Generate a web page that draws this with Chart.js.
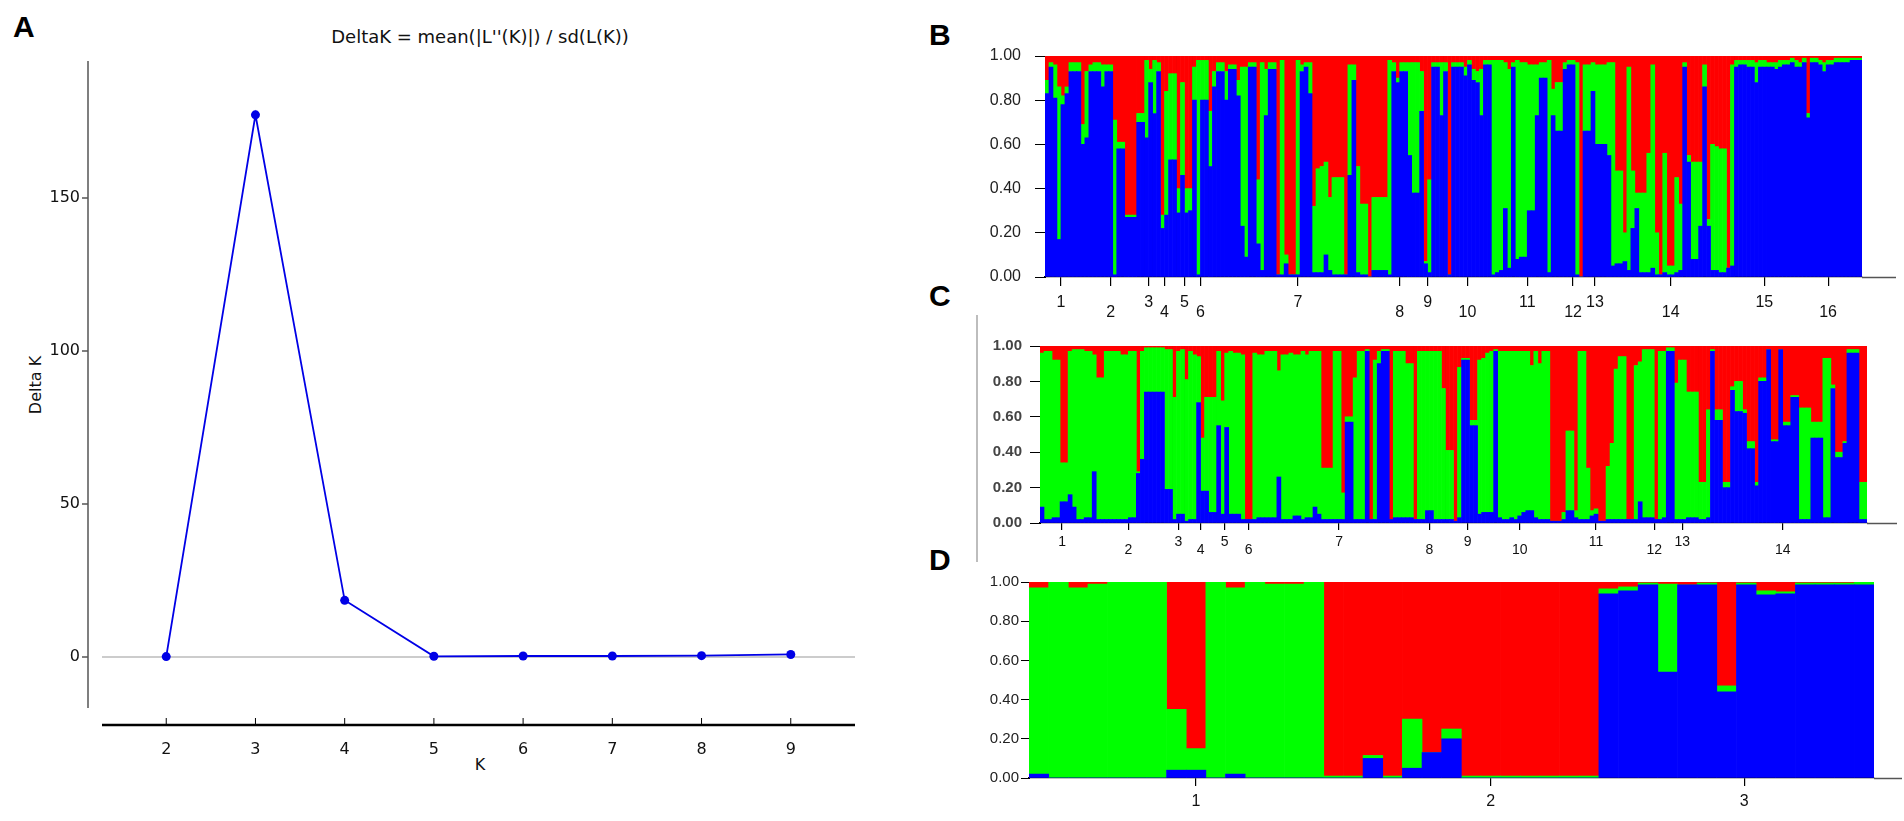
<!DOCTYPE html>
<html>
<head>
<meta charset="utf-8">
<script src="https://cdn.jsdelivr.net/npm/chart.js@4.4.1/dist/chart.umd.min.js"></script>
<style>
  html, body { margin: 0; padding: 0; background: #fff; }
  body { width: 1904px; height: 821px; position: relative; overflow: hidden; font-family: 'Liberation Sans', Arial, sans-serif; }
  canvas { position: absolute; }
  .panel { position: absolute; font: bold 30px 'Liberation Sans', Arial, sans-serif; line-height: 1; }
  .txt { position: absolute; white-space: nowrap; line-height: 1; transform: translate(-50%, -50%); font-family: 'DejaVu Sans', sans-serif; color: #111; }
  .vline { position: absolute; width: 2px; background: #bdbdbd; }
</style>
</head>
<body>
<div class="panel" style="left:13px;top:12px">A</div>
<div class="panel" style="left:929px;top:20px">B</div>
<div class="panel" style="left:929px;top:281px">C</div>
<div class="panel" style="left:929px;top:545px">D</div>
<div class="txt" style="left:480px;top:37px;font-size:18px">DeltaK = mean(|L''(K)|) / sd(L(K))</div>
<div class="txt" style="left:36px;top:385px;font-size:16px;transform:translate(-50%,-50%) rotate(-90deg)">Delta K</div>
<div class="txt" style="left:480px;top:765px;font-size:16px">K</div>
<div class="vline" style="left:976px;top:315px;height:247px"></div>

<canvas id="chartA" width="900" height="821" style="left:0;top:0"></canvas>
<canvas id="chartB" width="944" height="305" style="left:960px;top:20px"></canvas>
<canvas id="chartC" width="944" height="240" style="left:960px;top:320px"></canvas>
<canvas id="chartD" width="944" height="261" style="left:960px;top:560px"></canvas>

<script>
// Panel A - Evanno delta K
const kValues = [2, 3, 4, 5, 6, 7, 8, 9];
const deltaK = [0.1, 177.2, 18.5, 0.2, 0.3, 0.3, 0.4, 0.8];
const deltaTicks = [0, 50, 100, 150];

// STRUCTURE plots: tick labels shared by B, C, D
const structTicks = [0, 0.2, 0.4, 0.6, 0.8, 1];

// Panel B - 16 populations
const bGroupLabels = ['1', '2', '3', '4', '5', '6', '7', '8', '9', '10', '11', '12', '13', '14', '15', '16'];
const bGroupSizes = [8, 17, 2, 6, 4, 4, 45, 6, 8, 12, 18, 5, 6, 32, 15, 17];
const bBlue = [
  .83, .95, .81, .17, .78, .83, .93, .93,
  .93, .60, .63, .93, .93, .93, .86, .93, .93, .01, .58, .58, .27, .27, .27, .70, .70,
  .63, .88,
  .74, .93, .22, .28, .53, .53,
  .29, .46, .29, .30,
  .80, .01, .80, .80,
  .50, .86, .93, .93, .80, .94, .94, .82, .23, .09, .95, .95, .15, .03, .73, .94, .94, .01, .01, .06,
  .01, .01, .01, .93, .95, .83, .02, .02, .02, .10, .03, .01, .01, .01, .01, .46, .89, .02, .01, .01,
  0, .03, .03, .03, .03,
  .01, .93, .88, .93, .93, .55,
  .38, .38, .75, .06, .02, .95, .95, .73,
  .93, .01, .95, .95, .95, .91, .96, .89, .88, .73, .96, .96,
  .01, .02, .03, .31, .04, .95, .08, .09, .09, .30, .30, .73, .90, .90, .02, .73, .66, .66,
  .94, .96, .96, .01, 0,
  .66, .66, .84, .60, .60, .60,
  .55, .05, .06, .06, .07, .03, .22, .31, .02, .02, .02, .04, .01, .01, .02, .01,
  .01, .02, .03, .95, .52, .08, .08, .23, .86, .23, .03, .03, .02, .02, .04, .05,
  .95, .96, .96, .95, .95, .88, .95, .95, .95, .95, .94, .95, .96, .96, .97,
  .95, .95, .97, .72, .97, .97, .96, .93, .96, .96, .97, .97, .97, .97, .98, .98, .98
];
const bGreen = [
  .06, .02, .15, .69, .04, .03, .04, .04,
  .04, .09, .30, .03, .04, .04, .10, .03, .03, .70, .03, .03, .01, .01, .01, .04, .04,
  .35, .06,
  .24, .04, .06, .56, .39, .39,
  .11, .42, .11, .10,
  .15, .97, .18, .18,
  .25, .07, .04, .04, .13, .02, .02, .07, .72, .86, .02, .02, .29, .94, .21, .03, .03, 0, .97, .04,
  0, 0, .97, .03, .02, .14, .30, .47, .48, .42, .33, .44, .44, .44, 0, .50, .07, .48, .32, .32,
  0, .33, .33, .33, .33,
  .97, .04, .02, .04, .04, .42,
  .59, .59, .18, .01, .42, .02, .02, .24,
  .04, 0, .02, .02, .02, .04, .02, .05, .05, .21, .02, .02,
  .97, .96, .95, .66, .90, .02, .90, .88, .88, .66, .66, .23, .07, .07, .96, .12, .22, .22,
  .03, .02, .02, .96, 0,
  .30, .30, .13, .36, .36, .36,
  .42, .92, .42, .42, .13, .92, .26, .07, .36, .36, .54, .92, .19, 0, .54, .04,
  .04, .43, .30, .02, .03, .44, .44, .29, .10, .03, .57, .56, .56, .56, 0, .91,
  .03, .02, .02, .03, .03, .09, .03, .03, .02, .02, .03, .03, .02, .02, .02,
  .03, .02, .02, .02, .02, .02, .02, .04, .02, .02, .02, .02, .02, .02, .01, .01, .01
];

// Panel C - 14 populations
const cGroupLabels = ['1', '2', '3', '4', '5', '6', '7', '8', '9', '10', '11', '12', '13', '14'];
const cGroupSizes = [11, 22, 3, 8, 4, 8, 37, 8, 11, 15, 23, 6, 8, 42];
const cBlue = [
  .09, .02, .02, .03, .03, .12, .12, .16, .09, .02, .02,
  .03, .03, .29, .02, .02, .02, .02, .02, .02, .02, .02, .03, .03, .28, .36, .74, .74, .74, .74, .74, .19, .19,
  .02, .05, .05,
  .01, .02, .02, .68, .18, .18, .06, .06,
  .55, .05, .54, .05,
  .05, .05, .02, .02, .02, .02, .03, .03,
  .03, .03, .03, .26, .02, .02, .02, .04, .04, .02, .03, .03, .09, .05, .02, .02, .02, .02, .02,
  .02, .57, .57, .02, .02, .02, .97, .02, .02, .90, .97, .97, .02, .03, .03, .03, .03, .03,
  .02, .02, .02, .07, .07, .02, .02, .02,
  .02, .02, .01, .03, .92, .92, .55, .55, .05, .06, .06,
  .06, .97, .03, .02, .02, .03, .02, .04, .06, .07, .07, .03, .02, .02, .02,
  .01, .01, .01, .02, .07, .07, .03, .02, .02, .02, .04, .05, .01, .01, .02, .02, .02, .02, .02, .02, .02, .02, .12,
  .03, .03, .03, .02, .02, .03,
  .97, .97, .02, .02, .02, .03, .03, .03,
  .02, .02, .03, .97, .58, .58, .20, .20, .75, .63, .63, .62, .42, .42, .21, .80, .80, .98, .46, .46, .98,
  .55, .55, .71, .71, .02, .02, .02, .48, .48, .48, .03, .03, .76, .37, .37, .45, .96, .96, .96, .02, .02
];
const cGreen = [
  .87, .95, .95, .89, .89, .22, .22, .81, .89, .96, .96,
  .94, .94, .66, .80, .80, .95, .95, .95, .95, .93, .93, .94, .94, .01, .61, .25, .25, .25, .25, .25, .79, .79,
  .69, .92, .93,
  .80, .95, .93, .26, .30, .53, .65, .65,
  .42, .64, .42, .92,
  .91, .91, .93, 0, 0, .94, .92, .92,
  .94, .94, .94, .60, .93, .93, .94, .91, .91, .95, .92, .94, .88, .92, .29, .29, .29, .95, .95,
  .15, .03, .03, .80, .95, .95, .01, 0, .90, .07, .01, .01, 0, .94, .94, .94, .87, .87,
  0, .95, .95, .90, .90, .95, .95, .74,
  .39, .39, 0, .85, .01, .01, .03, .03, .87, .87, .90,
  .91, .01, .94, .95, .95, .94, .95, .93, .91, .90, .82, .94, .88, .95, .95,
  0, 0, 0, .04, .45, .45, .04, .95, .95, .29, .03, .03, 0, 0, .30, .43, .85, .92, .92, 0, 0, .87, .79,
  .95, .95, .95, 0, .95, .94,
  .02, .02, .77, .90, .90, .71, .71, .71,
  .21, .21, .61, .01, .06, .06, .03, .03, .02, .17, .17, .02, .04, .04, .02, .02, .02, 0, .01, .01, 0,
  .02, .02, .01, .01, .63, .63, .63, .09, .09, .09, .90, .90, .02, .03, .03, .01, .02, .02, .02, .21, .21
];

// Panel D - 3 genetic clusters (labels sit at these individual positions)
const dGroupLabels = ['1', '2', '3'];
const dGroupSizes = [15, 14, 14];
const dLabelAt = [8.5, 23.5, 36.4];
const dBlue = [
  .02, 0, 0, 0, 0, 0, 0, .04, .04, 0, .02, 0, 0, 0, 0,
  0, 0, .10, 0, .05, .13, .20, 0, 0, 0, 0, 0, 0, 0,
  .94, .955, .985, .54, .985, .985, .44, .985, .935, .94, .985, .985, .985, .985
];
const dGreen = [
  .95, 1, .97, .99, 1, 1, 1, .31, .11, 1, .95, 1, .99, .99, 1,
  .01, .01, .015, .01, .25, 0, .05, .01, .01, .01, .01, .01, .01, .01,
  .025, .02, .01, .45, 0, .01, .03, .01, .02, .01, .01, .01, .01, .015
];

const BLUE = '#0000ff', GREEN = '#00ff00', RED = '#ff0000';

// offset spines for the delta K plot (matplotlib style)
const spinePlugin = {
  id: 'spines',
  afterDraw(chart) {
    const { ctx, chartArea: a, scales } = chart;
    const sx = a.left - 14, sy = a.bottom + 17;
    ctx.save();
    ctx.lineWidth = 1.5;
    ctx.strokeStyle = '#555';
    ctx.beginPath();
    ctx.moveTo(sx, a.top);
    ctx.lineTo(sx, a.bottom);
    scales.y.ticks.forEach(t => {
      const y = scales.y.getPixelForValue(t.value);
      ctx.moveTo(sx - 6, y);
      ctx.lineTo(sx, y);
    });
    ctx.stroke();
    ctx.strokeStyle = '#000';
    ctx.lineWidth = 1;
    ctx.beginPath();
    scales.x.ticks.forEach(t => {
      const x = scales.x.getPixelForValue(t.value);
      ctx.moveTo(x, sy);
      ctx.lineTo(x, sy - 7);
    });
    ctx.stroke();
    ctx.lineWidth = 2.5;
    ctx.beginPath();
    ctx.moveTo(a.left, sy);
    ctx.lineTo(a.right, sy);
    ctx.stroke();
    ctx.restore();
  }
};

// the bottom axis line runs on a little past the last bar
const axisExtPlugin = {
  id: 'axisExt',
  afterDraw(chart, args, opts) {
    if (!opts.length) return;
    const { ctx, chartArea: a } = chart;
    ctx.save();
    ctx.strokeStyle = opts.color || '#555';
    ctx.lineWidth = 1.5;
    ctx.beginPath();
    ctx.moveTo(a.right, a.bottom + 0.5);
    ctx.lineTo(a.right + opts.length, a.bottom + 0.5);
    ctx.stroke();
    ctx.restore();
  }
};

new Chart(document.getElementById('chartA'), {
  type: 'line',
  data: {
    datasets: [{
      data: kValues.map((k, i) => ({ x: k, y: deltaK[i] })),
      borderColor: '#0000e6',
      backgroundColor: '#0000e6',
      borderWidth: 1.8,
      pointRadius: 4.5,
      pointBorderWidth: 0,
      tension: 0
    }]
  },
  options: {
    responsive: false,
    animation: false,
    events: [],
    layout: { padding: { top: 61, right: 45, left: 0, bottom: 0 } },
    plugins: { legend: { display: false }, tooltip: { enabled: false } },
    scales: {
      x: {
        type: 'linear', min: 1.28, max: 9.72,
        afterFit: s => { s.height = 113; },
        afterBuildTicks: s => { s.ticks = kValues.map(v => ({ value: v })); },
        grid: { display: false },
        border: { display: false },
        ticks: { padding: 24, color: '#111', font: { family: 'DejaVu Sans', size: 16 } }
      },
      y: {
        min: -16.7, max: 194.8,
        afterFit: s => { s.width = 102; },
        afterBuildTicks: s => { s.ticks = deltaTicks.map(v => ({ value: v })); },
        grid: {
          drawTicks: false,
          lineWidth: 2,
          color: c => (c.tick && c.tick.value === 0) ? '#cccccc' : 'rgba(0,0,0,0)'
        },
        border: { display: false },
        ticks: { padding: 22, color: '#111', font: { family: 'DejaVu Sans', size: 16 } }
      }
    }
  },
  plugins: [spinePlugin]
});

function structureChart(id, sizes, blue, green, labels, cfg) {
  const red = blue.map((b, i) => Math.max(0, +(1 - b - green[i]).toFixed(3)));
  const n = blue.length;
  const starts = [];
  let acc = 0;
  sizes.forEach(s => { starts.push(acc); acc += s; });
  const centres = cfg.labelAt || sizes.map((s, i) => starts[i] + s / 2);
  const bounds = starts.slice(1);
  const bar = { barPercentage: 1, categoryPercentage: 1, borderWidth: 0 };

  return new Chart(document.getElementById(id), {
    type: 'bar',
    data: {
      labels: blue.map((_, i) => i + 1),
      datasets: [
        { data: blue, backgroundColor: BLUE, ...bar },
        { data: green, backgroundColor: GREEN, ...bar },
        { data: red, backgroundColor: RED, ...bar }
      ]
    },
    options: {
      responsive: false,
      animation: false,
      events: [],
      layout: { padding: { top: cfg.top, right: cfg.right, left: 0, bottom: 0 } },
      plugins: { legend: { display: false }, tooltip: { enabled: false }, axisExt: { length: cfg.ext } },
      scales: {
        x: { type: 'category', stacked: true, display: false },
        y: {
          stacked: true, min: 0, max: 1,
          afterFit: s => { s.width = cfg.left; },
          afterBuildTicks: s => { s.ticks = structTicks.map(v => ({ value: v })); },
          grid: { drawOnChartArea: false, tickLength: cfg.yTick, color: '#000' },
          border: { color: '#000', width: 1 },
          ticks: {
            padding: cfg.yPad, color: cfg.yColor,
            font: cfg.yFont,
            callback: v => v.toFixed(2)
          }
        },
        grp: {
          type: 'linear', position: 'bottom', min: 0, max: n, offset: false,
          afterFit: s => { s.height = cfg.bottom; },
          afterBuildTicks: s => { s.ticks = centres.map(v => ({ value: v })); },
          grid: { offset: false, drawOnChartArea: false, tickLength: cfg.xTick, color: '#000', lineWidth: 1.2 },
          border: { color: '#000', width: 1.2 },
          ticks: {
            padding: cfg.xPad, color: '#111', maxRotation: 0, autoSkip: false,
            font: cfg.xFont,
            callback: (v, i) => (cfg.stagger && i % 2) ? ['', labels[i]] : labels[i]
          }
        },
        sep: {
          type: 'linear', position: 'bottom', min: 0, max: n, offset: false, z: 1,
          afterFit: s => { s.height = 0; },
          afterBuildTicks: s => { s.ticks = bounds.map(v => ({ value: v })); },
          grid: { offset: false, drawTicks: false, color: '#000', lineWidth: cfg.sepWidth },
          border: { display: false },
          ticks: { display: false }
        }
      }
    },
    plugins: [axisExtPlugin]
  });
}

structureChart('chartB', bGroupSizes, bBlue, bGreen, bGroupLabels, {
  left: 85, top: 36, right: 42, bottom: 48, ext: 34,
  yTick: 10, yPad: 14, yColor: '#222', yFont: { family: 'Liberation Sans', size: 16 },
  xTick: 9, xPad: 12, xFont: { family: 'Liberation Sans', size: 16, lineHeight: 0.625 },
  stagger: true, sepWidth: 1
});

structureChart('chartC', cGroupSizes, cBlue, cGreen, cGroupLabels, {
  left: 80, top: 26, right: 37, bottom: 37, ext: 30,
  yTick: 10, yPad: 8, yColor: '#444', yFont: { family: 'Liberation Sans', size: 15, weight: 'bold' },
  xTick: 7, xPad: 8, xFont: { family: 'Liberation Sans', size: 14, lineHeight: 0.58 },
  stagger: true, sepWidth: 1
});

structureChart('chartD', dGroupSizes, dBlue, dGreen, dGroupLabels, {
  left: 69, top: 22, right: 30, bottom: 43, ext: 28, labelAt: dLabelAt,
  yTick: 8, yPad: 2, yColor: '#222', yFont: { family: "'Liberation Sans Narrow', 'Liberation Sans'", size: 15 },
  xTick: 8, xPad: 6, xFont: { family: "'Liberation Sans Narrow', 'Liberation Sans'", size: 16 },
  stagger: false, sepWidth: 1.5
});
</script>
</body>
</html>
